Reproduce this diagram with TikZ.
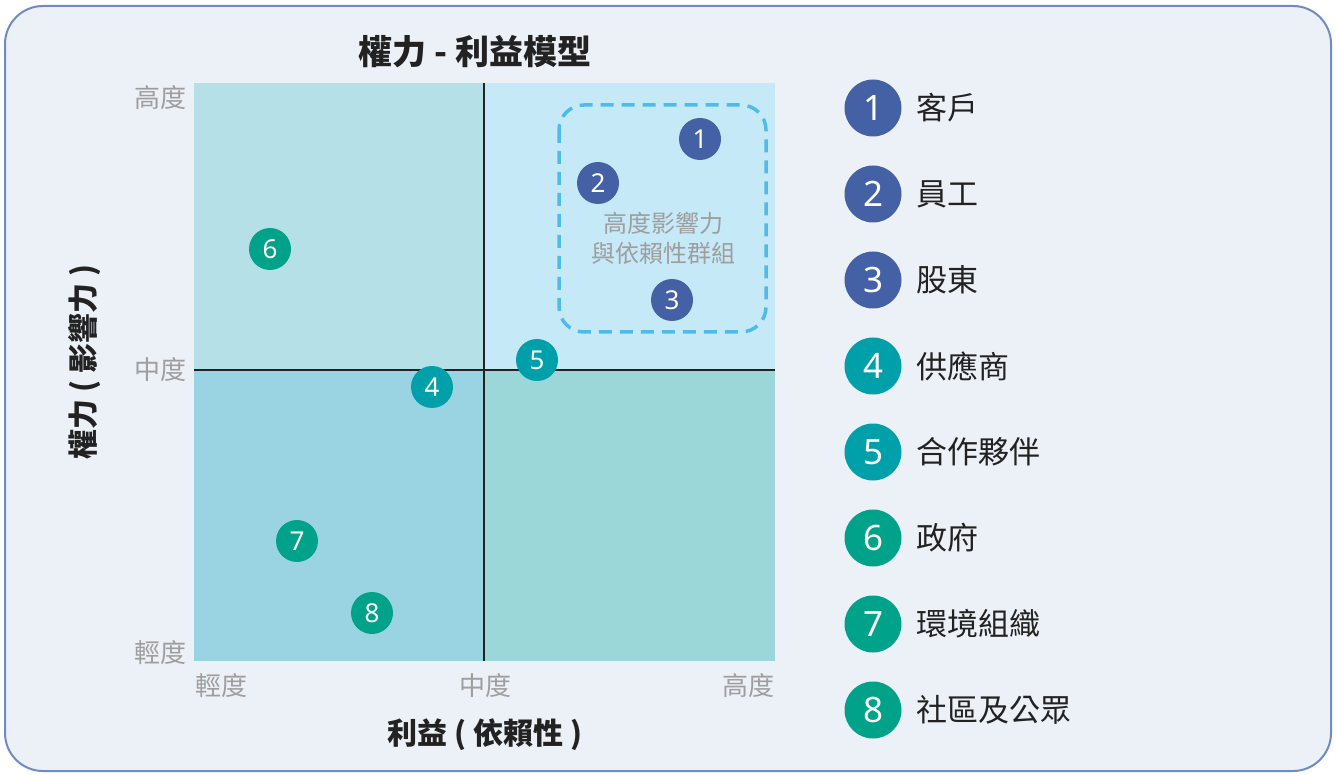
\documentclass[tikz,border=0pt]{standalone}
\usepackage{fontspec}
\setmainfont{Noto Sans CJK TC}
\newfontfamily\numfont{Noto Sans}
\begin{document}
\begin{tikzpicture}[x=1pt,y=-1pt,
  chartdot/.style={circle,inner sep=0pt,minimum size=42pt,text=white,font=\numfont\fontsize{26}{26}\selectfont},
  legdot/.style={circle,inner sep=0pt,minimum size=57pt,text=white,font=\numfont\fontsize{35}{35}\selectfont},
  legtxt/.style={anchor=west,text=txtdark,font=\fontsize{31}{31}\selectfont},
  tick/.style={text=ticgray,font=\fontsize{26}{26}\selectfont},
  axtitle/.style={text=txtdark,font=\bfseries\fontsize{30}{30}\selectfont},
  divline/.style={draw=linedark,line width=2.5pt}]
\definecolor{framebg}{HTML}{ECF0F7}
\definecolor{frameline}{HTML}{6F8AC4}
\definecolor{qtl}{HTML}{B5E0E7}
\definecolor{qtr}{HTML}{C6E9F8}
\definecolor{qbl}{HTML}{9AD4E3}
\definecolor{qbr}{HTML}{9BD7D8}
\definecolor{linedark}{HTML}{222222}
\definecolor{dashblue}{HTML}{4FBBE8}
\definecolor{dblue}{HTML}{4561A5}
\definecolor{teal}{HTML}{00A0AA}
\definecolor{green}{HTML}{00A38A}
\definecolor{ticgray}{HTML}{9E9E9E}
\definecolor{txtdark}{HTML}{222222}
\useasboundingbox (0,0) rectangle (1336,775);
\fill[white] (0,0) rectangle (1336,775);
\draw[frameline,line width=2pt,fill=framebg,rounded corners=38pt] (5,6) rectangle (1331,771);
% quadrants
\fill[qtl] (194,83) rectangle (484,370);
\fill[qtr] (484,83) rectangle (775,370);
\fill[qbl] (194,370) rectangle (484,661);
\fill[qbr] (484,370) rectangle (775,661);
\coordinate (vt) at (484,83); \coordinate (vb) at (484,661);
\coordinate (hl) at (194,370); \coordinate (hr) at (775,370);
\draw[divline] (vt) -- (vb);
\draw[divline] (hl) -- (hr);
% dashed group
\draw[dashblue,line width=3.5pt,dash pattern=on 13pt off 8pt,rounded corners=25pt] (559,105) rectangle (766,332);
\node[text=ticgray,align=center,font=\fontsize{24}{30}\selectfont] (grp) at (663,238) {高度影響力\\與依賴性群組};
% title
\node[axtitle,font=\bfseries\fontsize{34}{34}\selectfont] (title) at (475,52) {權力 - 利益模型};
% ticks
\node[tick] (y1) at (160,98) {高度};
\node[tick] (y2) at (160,370) {中度};
\node[tick] (y3) at (160,653) {輕度};
\node[tick] (x1) at (221,686) {輕度};
\node[tick] (x2) at (485,686) {中度};
\node[tick] (x3) at (748,686) {高度};
\node[axtitle] (xt) at (485,735) {利益 ( 依賴性 )};
\node[axtitle,rotate=90] (yt) at (85,362) {權力 ( 影響力 )};
% chart dots
\node[chartdot,fill=dblue] (c1) at (700,139) {1};
\node[chartdot,fill=dblue] (c2) at (598,183) {2};
\node[chartdot,fill=dblue] (c3) at (672,300) {3};
\node[chartdot,fill=teal] (c4) at (432,387) {4};
\node[chartdot,fill=teal] (c5) at (537,360) {5};
\node[chartdot,fill=green] (c6) at (270,249) {6};
\node[chartdot,fill=green] (c7) at (297,541) {7};
\node[chartdot,fill=green] (c8) at (372,613) {8};
% legend
\foreach \n/\c/\t [count=\i] in {1/dblue/客戶,2/dblue/員工,3/dblue/股東,4/teal/供應商,5/teal/合作夥伴,6/green/政府,7/green/環境組織,8/green/社區及公眾}{
  \node[legdot,fill=\c] (l\i) at (873,{108+86*(\i-1)}) {\n};
  \node[legtxt] (lt\i) at (913,{108+86*(\i-1)}) {\t};
}
\end{tikzpicture}
\end{document}
